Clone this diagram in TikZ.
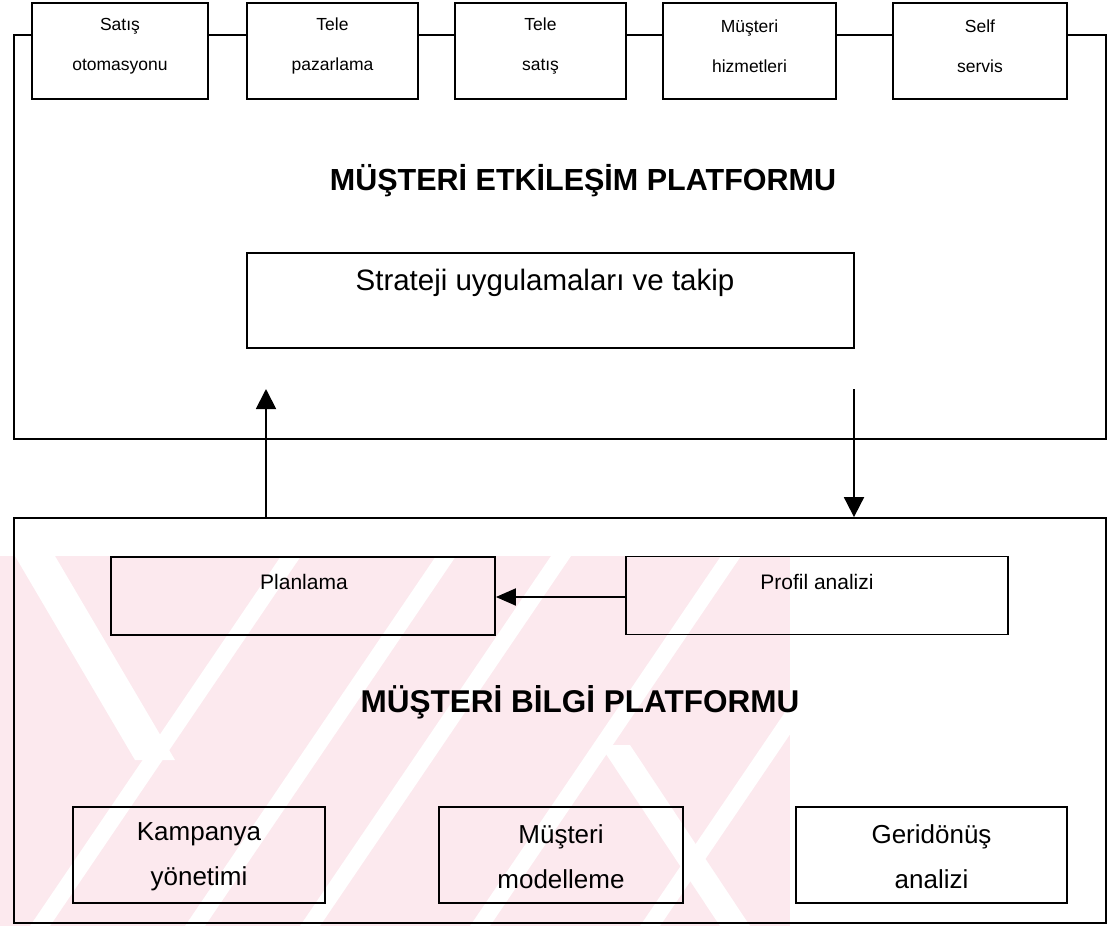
\documentclass[tikz,border=0pt]{standalone}
\usepackage{fontspec}
\setmainfont{Liberation Sans}
\usetikzlibrary{arrows.meta}
\definecolor{wmpink}{RGB}{252,233,238}

\begin{document}
\begin{tikzpicture}[x=1pt,y=-1pt,
  frame/.style={draw=black, line width=1.9pt},
  box/.style={draw=black, line width=1.8pt, rectangle, inner sep=0pt},
  topbox/.style={box, minimum height=96pt},
  botbox/.style={box, minimum height=96pt},
  midbox/.style={box, minimum height=78pt},
  toptext/.style={align=center, inner sep=0pt, font=\fontsize{17.5}{40}\selectfont},
  bottext/.style={align=center, inner sep=0pt, font=\fontsize{26}{45}\selectfont},
  midtext/.style={inner sep=0pt, font=\fontsize{21}{25}\selectfont},
  title/.style={inner sep=0pt, font=\bfseries\fontsize{30.5}{36}\selectfont},
  flow/.style={line width=1.9pt, -{Triangle[length=20pt,width=20pt]}},
]
\useasboundingbox (0,0) rectangle (1117,926);
\fill[white] (0,0) rectangle (1117,926);

% faint background emblem behind the lower platform
\begin{scope}
  \clip (0,556) rectangle (790,926);
  \fill[wmpink] (0,556) rectangle (790,926);
  \foreach \b in {30,185,300,470,640}
    \fill[white] (\b,926) -- (\b+20,926) -- (\b+271,556) -- (\b+251,556) -- cycle;
  \fill[white] (15,556) -- (55,556) -- (175,760) -- (135,760) -- cycle;
  \fill[white] (600,745) -- (630,745) -- (750,926) -- (720,926) -- cycle;
\end{scope}

% ---------- customer interaction platform ----------
\node[topbox, minimum width=176pt] (b1) at (120,51) {};
\node[topbox, minimum width=171pt] (b2) at (332.5,51) {};
\node[topbox, minimum width=171pt] (b3) at (540.5,51) {};
\node[topbox, minimum width=173pt] (b4) at (749.5,51) {};
\node[topbox, minimum width=174pt] (b5) at (980,51) {};

\node[toptext] (t1) at (120,46) {Satış\\otomasyonu};
\node[toptext] (t2) at (332.5,46) {Tele\\pazarlama};
\node[toptext] (t3) at (540.5,46) {Tele\\satış};
\node[toptext] (t4) at (749.5,46) {Müşteri\\hizmetleri};
\node[toptext] (t5) at (980,46) {Self\\servis};

\coordinate (topy) at (0,35);
\coordinate (tf-nw) at (14,35);
\coordinate (tf-sw) at (14,439);
\coordinate (tf-se) at (1106,439);
\coordinate (tf-ne) at (1106,35);

\draw[frame] (b1.west |- topy) -- (tf-nw) -- (tf-sw) -- (tf-se) -- (tf-ne) -- (b5.east |- topy);
\draw[frame] (b1.east |- topy) -- (b2.west |- topy);
\draw[frame] (b2.east |- topy) -- (b3.west |- topy);
\draw[frame] (b3.east |- topy) -- (b4.west |- topy);
\draw[frame] (b4.east |- topy) -- (b5.west |- topy);

\node[title] (etk) at (583,181) {MÜŞTERİ ETKİLEŞİM PLATFORMU};

\node[box, minimum width=607pt, minimum height=95pt] (str) at (550.5,300.5) {};
\node[inner sep=0pt, font=\fontsize{29.5}{34}\selectfont] (strt) at (545,283) {Strateji uygulamaları ve takip};

% ---------- customer information platform ----------
\node[box, minimum width=1092pt, minimum height=405pt] (bil) at (560,720.5) {};

\node[midbox, minimum width=384pt] (plan) at (303,596) {};
\node[midtext] (plant) at (304,582) {Planlama};
\node[midbox, minimum width=382pt] (prof) at (817,595.5) {};
\node[midtext] (proft) at (817,582) {Profil analizi};

\node[title, font=\bfseries\fontsize{31.5}{36}\selectfont] (blg) at (580,702) {MÜŞTERİ BİLGİ PLATFORMU};

\node[botbox, minimum width=252pt] (kam) at (199,855) {};
\node[bottext] (kamt) at (199,857) {Kampanya\\yönetimi};
\node[botbox, minimum width=244pt] (mod) at (561,855) {};
\node[bottext] (modt) at (561,857) {Müşteri\\modelleme};
\node[botbox, minimum width=271pt] (ger) at (931.5,855) {};
\node[bottext] (gert) at (931.5,857) {Geridönüş\\analizi};

% ---------- flows ----------
\coordinate (uptip) at (266,389);
\coordinate (downstart) at (854,389);
\draw[flow] (bil.north -| uptip) -- (uptip);
\draw[flow] (downstart) -- (bil.north -| downstart);
\draw[flow, -{Triangle[length=20pt,width=17pt]}] (prof.west |- 0,597) -- (plan.east |- 0,597);
\end{tikzpicture}
\end{document}
